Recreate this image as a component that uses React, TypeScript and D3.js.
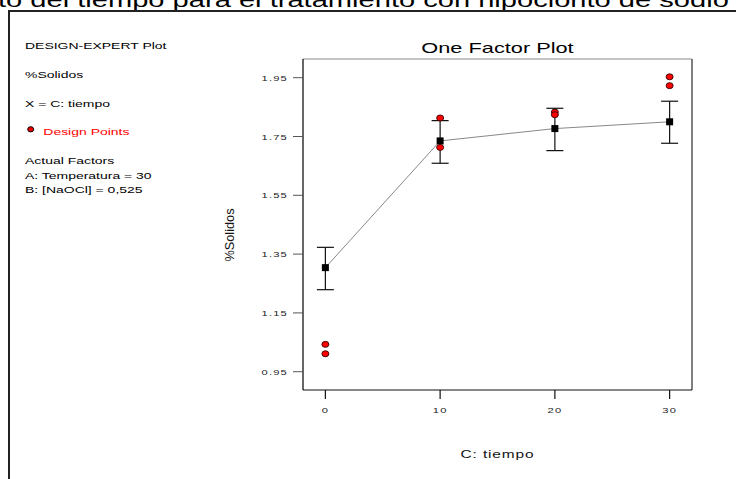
import React from 'react';
import * as d3 from 'd3';

const times = [0, 10, 20, 30];
const means = [1.304, 1.735, 1.777, 1.8];
const lower = [1.229, 1.659, 1.702, 1.727];
const upper = [1.373, 1.804, 1.846, 1.87];
const designX = [0, 0, 10, 10, 20, 20, 30, 30];
const designY = [1.043, 1.011, 1.813, 1.713, 1.833, 1.824, 1.953, 1.923];
const yTicks = [0.95, 1.15, 1.35, 1.55, 1.75, 1.95];
const xTicks = [0, 10, 20, 30];
const yTickLabels = ['0.95', '1.15', '1.35', '1.55', '1.75', '1.95'];
const xTickLabels = ['0', '10', '20', '30'];
const headerText = 'to del tiempo para el tratamiento con hipoclorito de sodio';
const chartTitle = 'One Factor Plot';
const xTitle = 'C: tiempo';
const yTitle = '%Solidos';
const legendTop = ['DESIGN-EXPERT Plot', '%Solidos', 'X = C: tiempo'];
const legendPoints = 'Design Points';
const legendFactors = ['Actual Factors', 'A: Temperatura = 30', 'B: [NaOCl] = 0,525'];

const SX = 1.47;
const FONT = '"Liberation Sans", Arial, sans-serif';

function T(props: { x: number; y: number; size: number; anchor?: string; fill?: string; children: React.ReactNode; sx?: number; ls?: number }) {
  const { x, y, size, anchor = 'start', fill = '#000', children, sx = SX, ls = 0 } = props;
  return (
    <text
      transform={`translate(${x},${y}) scale(${sx},1)`}
      fontSize={size}
      fontFamily={FONT}
      textAnchor={anchor as any}
      fill={fill}
      letterSpacing={ls}
    >
      {children}
    </text>
  );
}

export default function App() {
  const W = 736, H = 479;
  const left = 303, right = 692, top = 59, bottom = 390;
  const x = d3.scaleLinear().domain([-1.95, 31.95]).range([left, right]);
  const y = d3.scaleLinear().domain([0.8878, 2.0136]).range([bottom, top]);
  const line = d3.line<number>().x((_, i) => x(times[i])).y((d) => y(d));
  const capW = 8.5;

  return (
    <svg width={W} height={H} style={{ position: 'absolute', left: 0, top: 0, background: '#fff' }}>
      <rect x={0} y={0} width={W} height={H} fill="#fff" />
      {/* header text (cropped at top, as in the source) */}
      <T x={-2} y={7} size={19.8}>{headerText}</T>
      {/* frame */}
      <line x1={8} x2={W} y1={11} y2={11} stroke="#222" strokeWidth={2} />
      <line x1={9} x2={9} y1={10} y2={H} stroke="#222" strokeWidth={2} />

      {/* legend */}
      <T x={25} y={49} size={9.5}>{legendTop[0]}</T>
      <T x={25} y={78} size={9.5}>{legendTop[1]}</T>
      <T x={25} y={107} size={9.5}>{legendTop[2]}</T>
      <ellipse cx={30.7} cy={129.3} rx={3} ry={2.6} fill="#e00" stroke="#000" strokeWidth={1} />
      <T x={43.3} y={135} size={9.5} fill="#f00">{legendPoints}</T>
      <T x={25} y={164} size={9.5}>{legendFactors[0]}</T>
      <T x={25} y={179} size={9.5}>{legendFactors[1]}</T>
      <T x={25} y={192.5} size={9.5}>{legendFactors[2]}</T>

      {/* title */}
      <T x={(left + right) / 2} y={53.3} size={14.8} anchor="middle">{chartTitle}</T>

      {/* plot frame */}
      <line x1={left} x2={right} y1={top} y2={top} stroke="#8a8a8a" strokeWidth={1} />
      <line x1={right} x2={right} y1={top} y2={bottom} stroke="#555" strokeWidth={1.5} />
      <line x1={left} x2={right} y1={bottom} y2={bottom} stroke="#111" strokeWidth={1.2} />
      <line x1={left} x2={left} y1={top} y2={bottom} stroke="#000" strokeWidth={1.2} />

      {/* y ticks */}
      {yTicks.map((t, i) => (
        <g key={'yt' + i}>
          <line x1={left - 10} x2={left} y1={y(t)} y2={y(t)} stroke="#555" strokeWidth={1} />
          <T x={left - 15} y={y(t) + 3} size={7.6} anchor="end" fill="#222" ls={0.8}>{yTickLabels[i]}</T>
        </g>
      ))}
      {/* x ticks */}
      {xTicks.map((t, i) => (
        <g key={'xt' + i}>
          <line x1={x(t)} x2={x(t)} y1={bottom} y2={bottom + 9} stroke="#111" strokeWidth={1.2} />
          <T x={x(t)} y={413} size={7.6} anchor="middle" fill="#222" ls={0.8}>{xTickLabels[i]}</T>
        </g>
      ))}

      {/* axis titles */}
      <T x={(left + right) / 2} y={457.5} size={10.5} anchor="middle" fill="#111" ls={0.6}>{xTitle}</T>
      <text
        transform={`translate(234,235) rotate(-90)`}
        fontSize={12}
        fontFamily={FONT}
        textAnchor="middle"
        fill="#111"
        textLength={53}
        lengthAdjust="spacingAndGlyphs"
      >
        {yTitle}
      </text>

      {/* mean line */}
      <path d={line(means) || ''} fill="none" stroke="#888" strokeWidth={1} />

      {/* error bars */}
      {times.map((t, i) => (
        <g key={'eb' + i} stroke="#111" strokeWidth={1.2}>
          <line x1={x(t)} x2={x(t)} y1={y(upper[i])} y2={y(lower[i])} />
          <line x1={x(t) - capW} x2={x(t) + capW} y1={y(upper[i])} y2={y(upper[i])} />
          <line x1={x(t) - capW} x2={x(t) + capW} y1={y(lower[i])} y2={y(lower[i])} />
        </g>
      ))}

      {/* means */}
      {times.map((t, i) => (
        <rect key={'m' + i} x={x(t) - 3.5} y={y(means[i]) - 3.5} width={7} height={7} fill="#000" />
      ))}

      {/* design points */}
      {designX.map((t, i) => (
        <ellipse key={'d' + i} cx={x(t)} cy={y(designY[i])} rx={3.5} ry={3} fill="#f00" stroke="#300" strokeWidth={0.9} />
      ))}
    </svg>
  );
}
